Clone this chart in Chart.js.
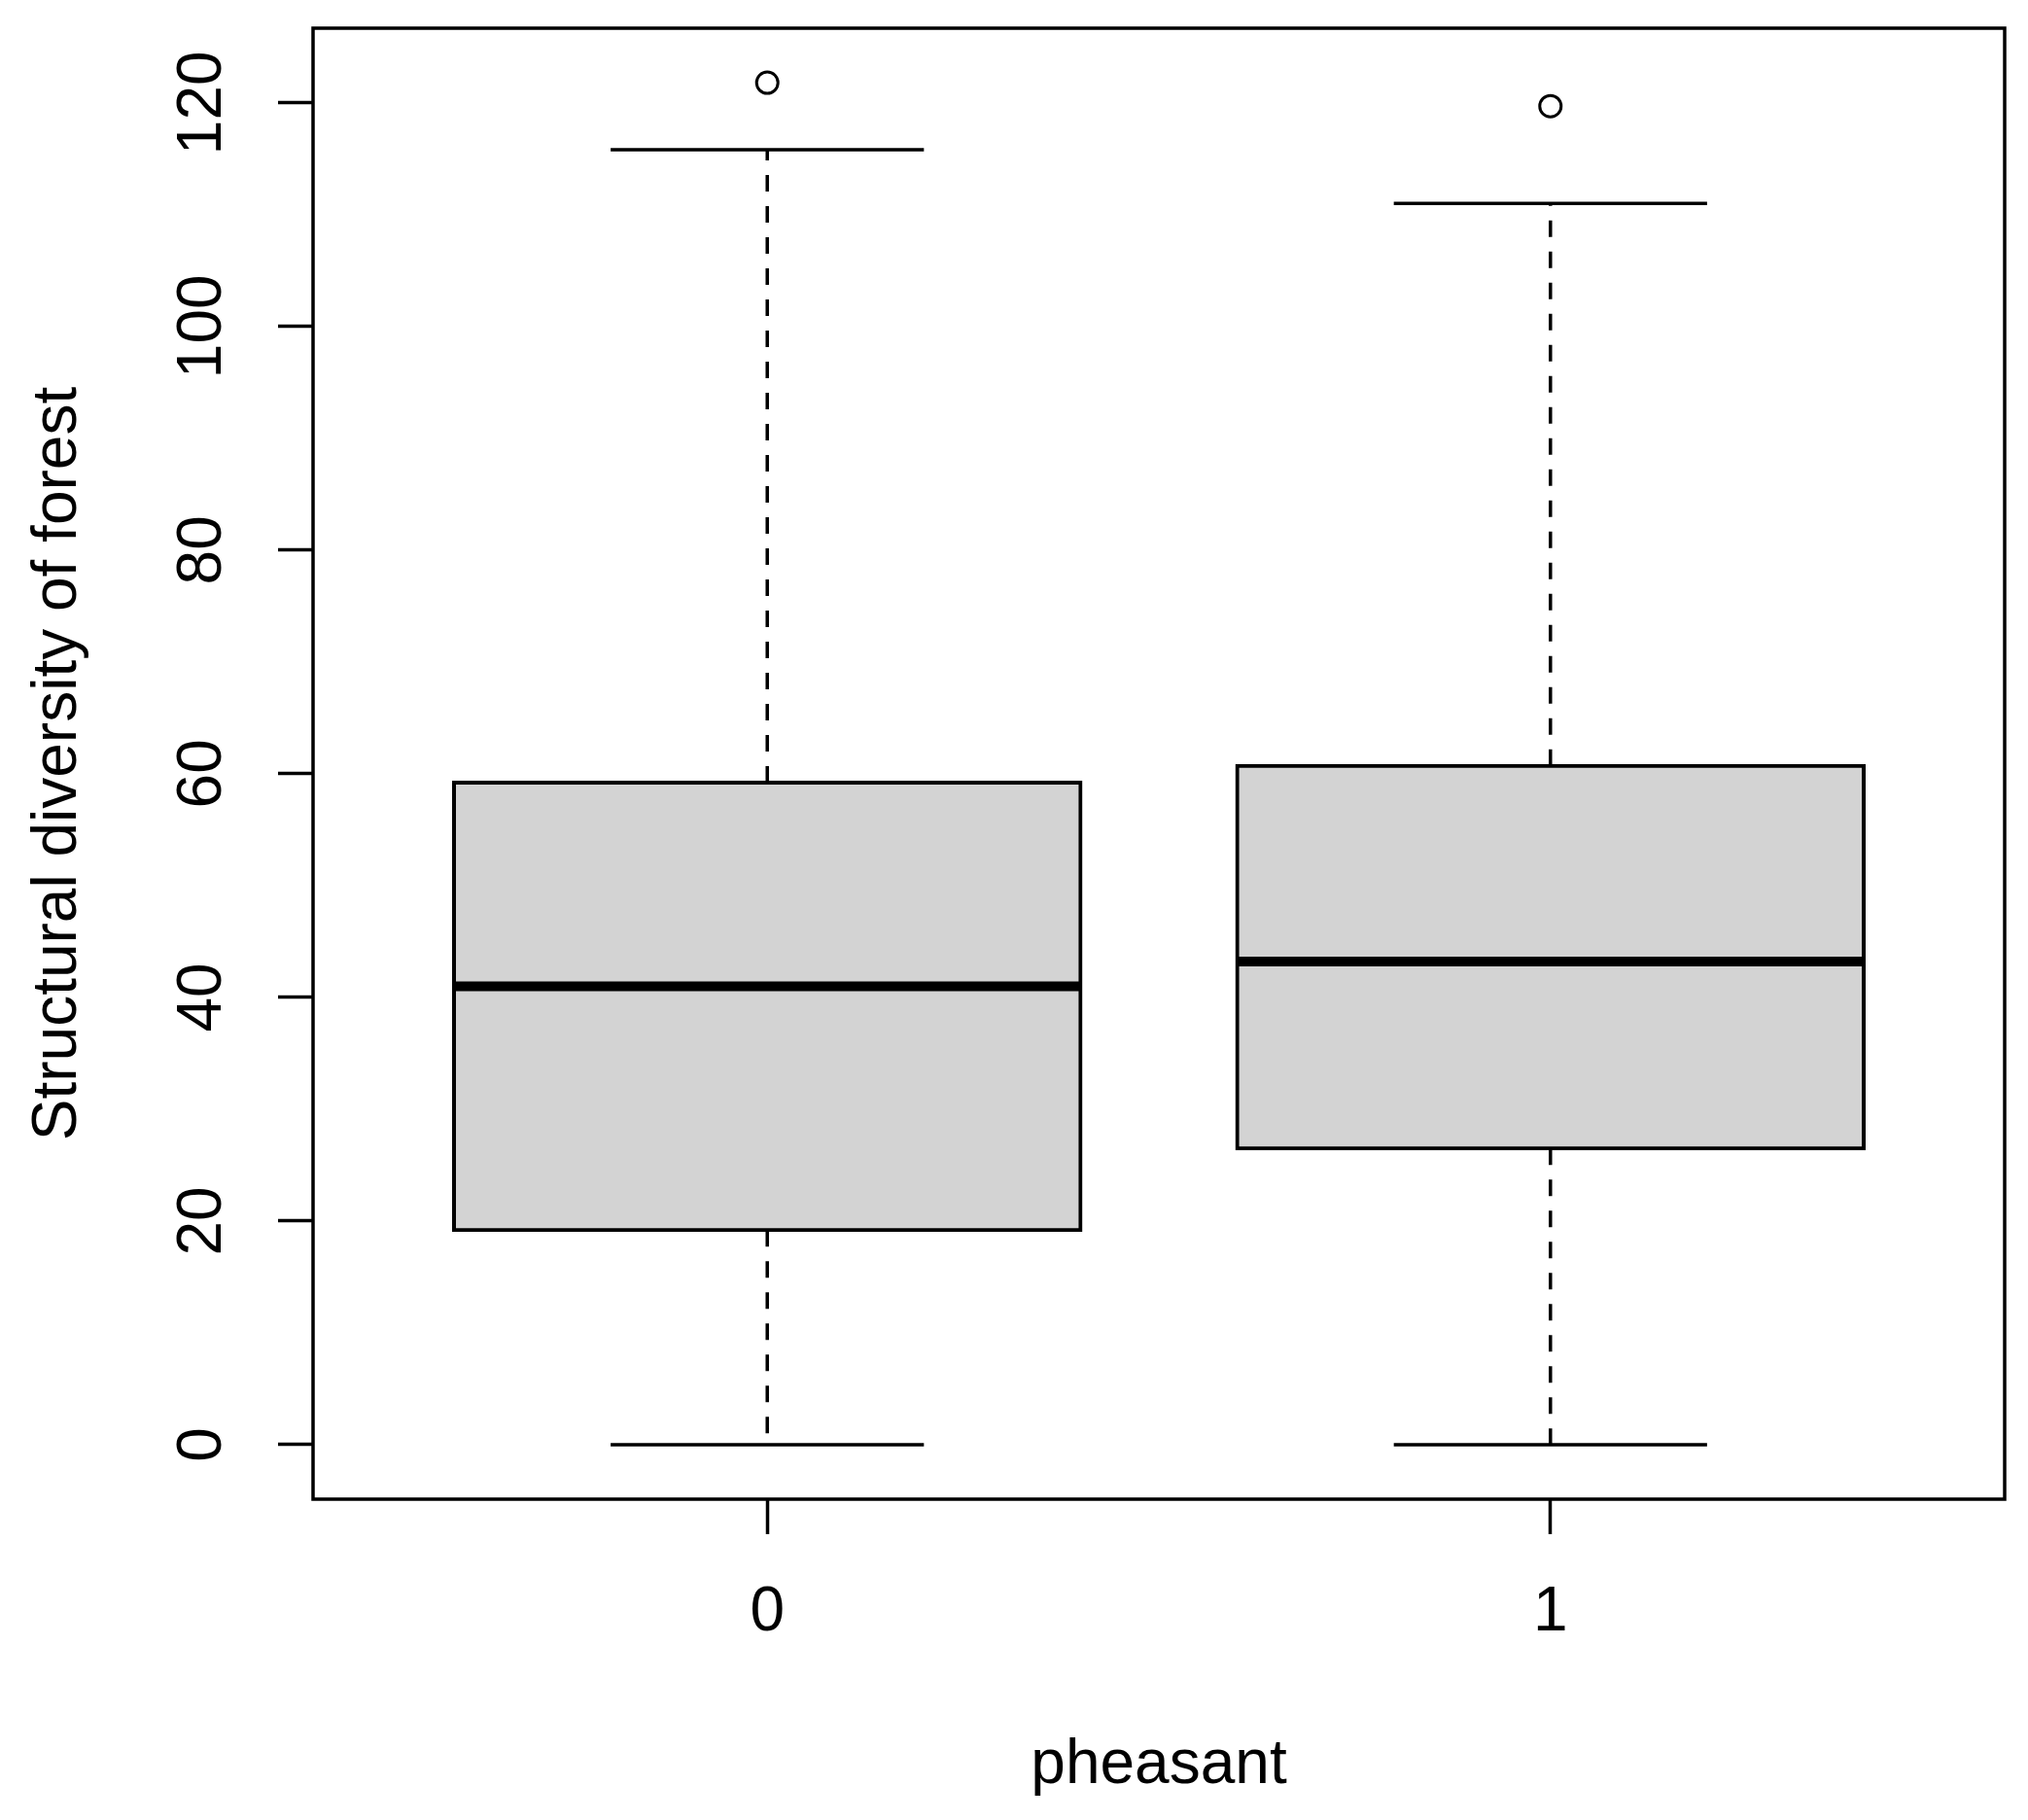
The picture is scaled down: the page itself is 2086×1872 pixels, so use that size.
<!DOCTYPE html>
<html>
<head>
<meta charset="utf-8">
<script src="https://cdn.jsdelivr.net/npm/chart.js@4.4.1/dist/chart.umd.min.js"></script>
<style>
  html, body { margin: 0; padding: 0; background: #fff; }
  #wrap { width: 2086px; height: 1872px; position: relative; }
</style>
</head>
<body>
<div id="wrap"><canvas id="chart"></canvas></div>
<script>
// box statistics per group
const groups = ["0", "1"];
const positions = [1, 2];
const whiskerLow = [0, 0];
const q1 = [19.2, 26.5];
const median = [41.0, 43.2];
const q3 = [59.2, 60.7];
const whiskerHigh = [115.8, 111.0];
const outliers = [[121.8], [119.7]];
const yTicks = [0, 20, 40, 60, 80, 100, 120];

const boxWidth = 0.8;   // in x units, like boxwex
const capWidth = 0.4;
const font = { family: "'Liberation Sans', Arial, sans-serif", size: 64, lineHeight: 1 };

// R pads both axis ranges by 4%
const lo = Math.min(...whiskerLow);
const hi = Math.max(...whiskerHigh, ...outliers.flat());
const yPad = (hi - lo) * 0.04;
const xLo = 0.5, xHi = groups.length + 0.5;
const xPad = (xHi - xLo) * 0.04;

const boxData = positions.map((x, i) => ({ x: x, y: [q1[i], q3[i]] }));

const whiskerData = [];
const capData = [];
const medianData = [];
positions.forEach((x, i) => {
  whiskerData.push({ x: x, y: q3[i] }, { x: x, y: whiskerHigh[i] }, { x: x, y: null });
  whiskerData.push({ x: x, y: q1[i] }, { x: x, y: whiskerLow[i] }, { x: x, y: null });
  capData.push({ x: x - capWidth / 2, y: whiskerHigh[i] }, { x: x + capWidth / 2, y: whiskerHigh[i] }, { x: x, y: null });
  capData.push({ x: x - capWidth / 2, y: whiskerLow[i] }, { x: x + capWidth / 2, y: whiskerLow[i] }, { x: x, y: null });
  medianData.push({ x: x - boxWidth / 2, y: median[i] }, { x: x + boxWidth / 2, y: median[i] }, { x: x, y: null });
});

const outlierData = [];
outliers.forEach((vals, i) => vals.forEach(v => outlierData.push({ x: positions[i], y: v })));

// box around the plot region, as R's box()
const frame = {
  id: "frame",
  afterDatasetsDraw(chart) {
    const { ctx, chartArea: a } = chart;
    ctx.save();
    ctx.strokeStyle = "#000";
    ctx.lineWidth = 3.5;
    ctx.strokeRect(a.left, a.top, a.right - a.left, a.bottom - a.top);
    ctx.restore();
  }
};

const tickGrid = {
  display: true,
  drawOnChartArea: false,
  drawTicks: true,
  tickLength: 36,
  tickWidth: 3.5,
  tickColor: "#000",
  offset: false
};

new Chart(document.getElementById("chart"), {
  type: "bar",
  data: {
    datasets: [
      {
        type: "line",
        data: medianData,
        borderColor: "#000",
        borderWidth: 10,
        borderCapStyle: "butt",
        pointRadius: 0,
        order: 0
      },
      {
        type: "scatter",
        data: outlierData,
        pointStyle: "circle",
        pointRadius: 11,
        borderWidth: 3,
        borderColor: "#000",
        backgroundColor: "rgba(0,0,0,0)",
        order: 1
      },
      {
        type: "line",
        data: capData,
        borderColor: "#000",
        borderWidth: 3.5,
        borderCapStyle: "butt",
        pointRadius: 0,
        order: 2
      },
      {
        type: "line",
        data: whiskerData,
        borderColor: "#000",
        borderWidth: 3.5,
        borderDash: [17, 15],
        borderCapStyle: "butt",
        pointRadius: 0,
        order: 3
      },
      {
        type: "bar",
        data: boxData,
        backgroundColor: "#d3d3d3",
        borderColor: "#000",
        borderWidth: 4,
        borderSkipped: false,
        inflateAmount: 2,
        categoryPercentage: boxWidth,
        barPercentage: 1,
        order: 4
      }
    ]
  },
  options: {
    responsive: true,
    maintainAspectRatio: false,
    animation: false,
    layout: { padding: { left: 0, top: 29, right: 24, bottom: 0 } },
    plugins: {
      legend: { display: false },
      tooltip: { enabled: false }
    },
    scales: {
      x: {
        type: "linear",
        min: xLo - xPad,
        max: xHi + xPad,
        offset: false,
        border: { display: false },
        grid: tickGrid,
        afterBuildTicks: s => { s.ticks = positions.map(v => ({ value: v })); },
        afterFit: s => { s.height = 330; s.paddingLeft = 0; s.paddingRight = 0; },
        ticks: {
          color: "#000",
          font: font,
          padding: 49,
          autoSkip: false,
          maxRotation: 0,
          callback: v => groups[positions.indexOf(v)]
        },
        title: {
          display: true,
          text: "pheasant",
          color: "#000",
          font: font,
          padding: { top: 0, bottom: 24 }
        }
      },
      y: {
        type: "linear",
        min: lo - yPad,
        max: hi + yPad,
        border: { display: false },
        grid: tickGrid,
        afterBuildTicks: s => { s.ticks = yTicks.map(v => ({ value: v })); },
        afterFit: s => { s.width = 322; s.paddingTop = 0; s.paddingBottom = 0; },
        ticks: {
          color: "#000",
          font: font,
          padding: 23,
          autoSkip: false,
          minRotation: 90,
          maxRotation: 90,
          crossAlign: "center"
        },
        title: {
          display: true,
          text: "Structural diversity of forest",
          color: "#000",
          font: font,
          padding: { top: 28, bottom: 0 }
        }
      }
    }
  },
  plugins: [frame]
});
</script>
</body>
</html>
